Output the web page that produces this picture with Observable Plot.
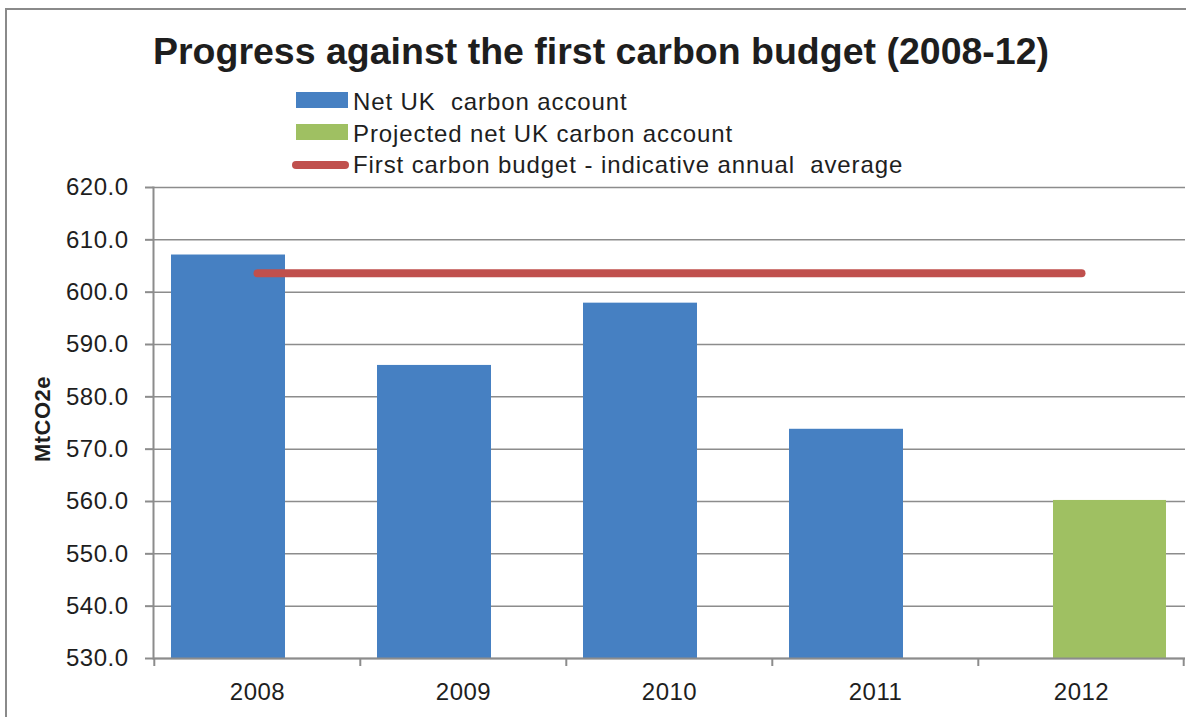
<!DOCTYPE html>
<html><head><meta charset="utf-8">
<script src="https://cdn.jsdelivr.net/npm/d3@7"></script>
<script src="https://cdn.jsdelivr.net/npm/@observablehq/plot@0.6"></script>
<style>
body{margin:0;background:#fff;font-family:'Liberation Sans',Arial,sans-serif;color:#1e1e1e}
#wrap{position:relative;width:1186px;height:717px;overflow:hidden;background:#fff}
#head{position:relative;height:175px}
#border{position:absolute;left:5px;top:8px;width:1200px;height:720px;border-left:2px solid #8a8a8a;border-top:2px solid #8a8a8a;pointer-events:none}
#title{position:absolute;left:601px;top:33px;transform:translateX(-50%);white-space:nowrap;font-weight:bold;font-size:37.5px;line-height:37.5px;color:#1e1e1e}
.lg{position:absolute;left:353px;font-size:24px;line-height:24px;letter-spacing:0.9px;white-space:pre}
.sw{position:absolute;left:296px;width:52px;height:16px}
.ln{position:absolute;left:292px;width:57px;height:8px;border-radius:4px}
#chart svg{display:block}
</style></head>
<body>
<div id="wrap">
  <div id="head">
    <div id="title"></div>
    <div id="legend"></div>
  </div>
  <div id="chart"></div>
  <div id="border"></div>
</div>
<script>
const titleText = "Progress against the first carbon budget (2008-12)";
const yLabel = "MtCO2e";
const years = ["2008","2009","2010","2011","2012"];
const netYears = ["2008","2009","2010","2011"];
const netValues = [607.1, 586.0, 597.9, 573.8];
const projYears = ["2012"];
const projValues = [560.2];
const budgetYears = ["2008","2009","2010","2011","2012"];
const budgetValues = [603.6, 603.6, 603.6, 603.6, 603.6];
const yTicks = [530,540,550,560,570,580,590,600,610,620];
const seriesNames = ["Net UK  carbon account","Projected net UK carbon account","First carbon budget - indicative annual  average"];
const seriesKinds = ["bar","bar","line"];
const seriesColors = ["#4680c2","#9fc062","#c0504d"];

document.getElementById("title").textContent = titleText;
const legend = document.getElementById("legend");
seriesNames.forEach((name, i) => {
  const top = 90 + i * 31.5;
  const mk = document.createElement("div");
  if (seriesKinds[i] === "bar") { mk.className = "sw"; mk.style.top = (top + 2) + "px"; }
  else { mk.className = "ln"; mk.style.top = (top + 8) + "px"; }
  mk.style.background = seriesColors[i];
  legend.appendChild(mk);
  const t = document.createElement("div");
  t.className = "lg";
  t.style.top = top + "px";
  t.textContent = name;
  legend.appendChild(t);
});

const W = 1186, H = 542, mT = 12, mB = 59, mL = 153, mR = 1;
const plotH = H - mT - mB;
const bw = (W - mL - mR) / years.length;
const net = netYears.map((year, i) => ({year, value: netValues[i], base: yTicks[0]}));
const proj = projYears.map((year, i) => ({year, value: projValues[i], base: yTicks[0]}));
const budget = budgetYears.map((year, i) => ({year, value: budgetValues[i]}));
const gray = "#8c8c8c";

const chart = Plot.plot({
  width: W, height: H,
  marginTop: mT, marginBottom: mB, marginLeft: mL, marginRight: mR,
  style: {fontFamily: "'Liberation Sans', Arial, sans-serif", fontSize: "24px", color: "#1e1e1e", letterSpacing: "0.5px", overflow: "visible", background: "transparent"},
  x: {type: "band", domain: years, padding: 0, label: null},
  y: {domain: [yTicks[0], yTicks[yTicks.length - 1]], label: null},
  marks: [
    Plot.gridY(yTicks, {stroke: gray, strokeOpacity: 1, strokeWidth: 1.5}),
    Plot.barY(net, {x: "year", y1: "base", y2: "value", fill: seriesColors[0], insetLeft: 17, insetRight: 75}),
    Plot.barY(proj, {x: "year", y1: "base", y2: "value", fill: seriesColors[1], insetLeft: 75, insetRight: 18}),
    Plot.ruleY([yTicks[0]], {stroke: gray, strokeWidth: 2}),
    Plot.frame({anchor: "left", stroke: gray, strokeWidth: 2}),
    Plot.ruleX(years, {x: d => d, dx: -bw / 2, insetTop: plotH, insetBottom: -8, stroke: gray, strokeWidth: 2}),
    Plot.ruleX([years[years.length - 1]], {x: d => d, dx: bw / 2 - 1, insetTop: plotH, insetBottom: -8, stroke: gray, strokeWidth: 2}),
    Plot.lineY(budget, {x: "year", y: "value", stroke: seriesColors[2], strokeWidth: 8, strokeLinecap: "round"}),
    Plot.axisY(yTicks, {tickSize: 8, tickPadding: 17, tickFormat: d3.format(".1f"), stroke: gray, strokeWidth: 2, label: null}),
    Plot.axisX({tickSize: 0, tickPadding: 24, label: null}),
    Plot.text([yLabel], {text: d => d, frameAnchor: "left", textAnchor: "middle", rotate: -90, dx: -111, dy: -4, fontWeight: "bold", fontSize: 22, letterSpacing: "0px"})
  ]
});
document.getElementById("chart").appendChild(chart);
</script>
</body></html>
